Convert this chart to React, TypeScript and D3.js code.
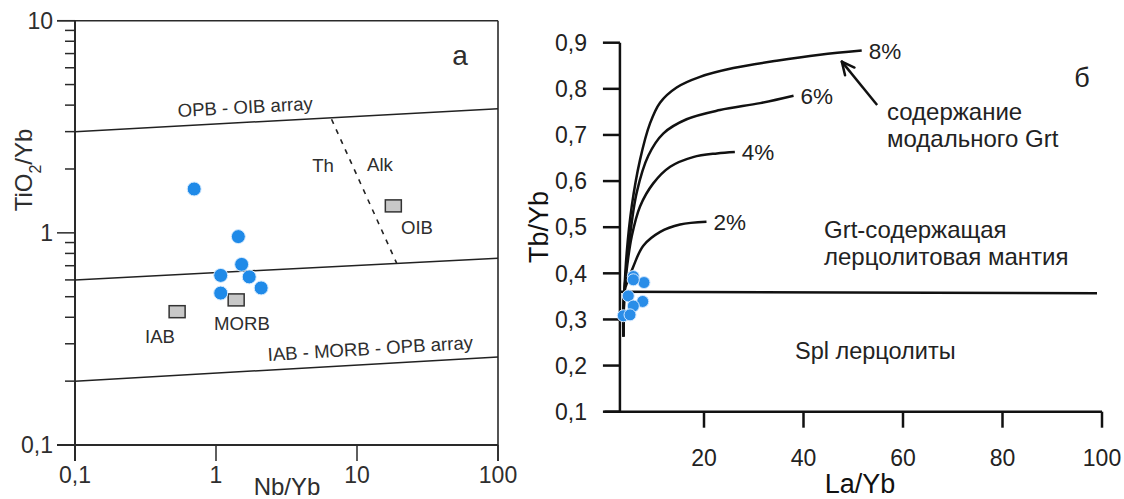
import * as d3 from 'd3';
import React, { useRef, useEffect } from 'react';

// ---- left panel (а): TiO2/Yb vs Nb/Yb ----
const sampleNb = [0.7, 1.44, 1.52, 1.08, 1.72, 2.09, 1.08];
const sampleTi = [1.61, 0.96, 0.71, 0.63, 0.62, 0.55, 0.52];

const refNames = ['IAB', 'MORB', 'OIB'];
const refNb = [0.53, 1.39, 18.1];
const refTi = [0.425, 0.483, 1.34];

// array boundaries: TiO2/Yb at Nb/Yb = 0.1 and at Nb/Yb = 100
const arrayNames = ['OPB - OIB array', '', 'IAB - MORB - OPB array'];
const arrayAt01 = [3.0, 0.6, 0.2];
const arrayAt100 = [3.85, 0.76, 0.26];

const thAlkNb = [6.6, 19.1];
const thAlkTi = [3.43, 0.72];

const leftXTicks = [0.1, 1, 10, 100];
const leftYTicks = [0.1, 1, 10];
const leftYMinor = [0.2, 0.3, 0.4, 0.5, 0.6, 0.7, 0.8, 0.9, 2, 3, 4, 5, 6, 7, 8, 9];

// ---- right panel (б): Tb/Yb vs La/Yb ----
const curveNames = ['8%', '6%', '4%', '2%'];
const curveLa = [
    [3.8, 4.0, 4.46, 5.47, 7.14, 9.15, 11.16, 14.5, 19.2, 25.9, 34.6, 43.3, 51.7],
    [3.8, 4.0, 5.0, 6.47, 8.8, 11.8, 16.5, 23.2, 31.3, 38],
    [3.8, 4.0, 4.6, 5.47, 7.14, 9.8, 13.2, 17.8, 22.6, 26.2],
    [3.8, 4.0, 4.9, 5.8, 7.8, 11.2, 15.2, 20.5]
];
const curveTb = [
    [0.263, 0.36, 0.444, 0.545, 0.646, 0.725, 0.77, 0.803, 0.826, 0.845, 0.861, 0.874, 0.883],
    [0.263, 0.36, 0.47, 0.575, 0.655, 0.703, 0.734, 0.754, 0.769, 0.785],
    [0.263, 0.36, 0.42, 0.48, 0.545, 0.595, 0.631, 0.652, 0.66, 0.663],
    [0.263, 0.36, 0.39, 0.415, 0.46, 0.49, 0.506, 0.512]
];

const boundaryLa = [3.1, 99];
const boundaryTb = [0.36, 0.357];

const arrowLa = [54.8, 47.7];
const arrowTb = [0.765, 0.859];

const rightLa = [5.79, 7.94, 4.78, 7.68, 5.79, 3.78, 5.13, 5.79];
const rightTb = [0.393, 0.38, 0.351, 0.339, 0.329, 0.308, 0.31, 0.386];

const rightXTicks = [20, 40, 60, 80, 100];
const rightYTicks = [0.1, 0.2, 0.3, 0.4, 0.5, 0.6, 0.7, 0.8, 0.9];

const font = "'Liberation Sans', Arial, sans-serif";
const comma = (v: number) => String(v).replace('.', ',');

function App() {
    const ref = useRef<SVGSVGElement>(null);

    useEffect(() => {
        draw();
    }, []);

    const draw = () => {
        const svg = d3.select(ref.current);
        svg.selectAll('*').remove();
        svg.append('rect').attr('width', 1124).attr('height', 499).attr('fill', '#fff');

        /* ===== left panel ===== */
        const lx = d3.scaleLog().domain([0.1, 100]).range([75, 498]);
        const ly = d3.scaleLog().domain([0.1, 10]).range([445, 20.7]);
        const L = svg.append('g').style('font-family', font);
        const axCol = '#2a2a2a';
        const txt = '#2e2e2e';

        // frame
        L.append('line').attr('x1', lx(0.1)).attr('x2', lx(0.1)).attr('y1', ly(10)).attr('y2', ly(0.1) + 16)
            .attr('stroke', axCol).attr('stroke-width', 2);
        L.append('line').attr('x1', lx(0.1) - 18).attr('x2', lx(100)).attr('y1', ly(0.1)).attr('y2', ly(0.1))
            .attr('stroke', axCol).attr('stroke-width', 2);
        L.append('line').attr('x1', lx(0.1) - 18).attr('x2', lx(100)).attr('y1', ly(10)).attr('y2', ly(10))
            .attr('stroke', axCol).attr('stroke-width', 1.6);
        L.append('line').attr('x1', lx(100)).attr('x2', lx(100)).attr('y1', ly(10)).attr('y2', ly(0.1) + 16)
            .attr('stroke', axCol).attr('stroke-width', 1.6);

        // y ticks
        leftYMinor.forEach(v => {
            L.append('line').attr('x1', lx(0.1) - 10).attr('x2', lx(0.1) + 1).attr('y1', ly(v)).attr('y2', ly(v))
                .attr('stroke', axCol).attr('stroke-width', 1.5);
        });
        leftYTicks.forEach(v => {
            L.append('line').attr('x1', lx(0.1) - 18).attr('x2', lx(0.1)).attr('y1', ly(v)).attr('y2', ly(v))
                .attr('stroke', axCol).attr('stroke-width', 1.5);
            L.append('text').attr('x', 53).attr('y', ly(v)).attr('dy', '0.35em').attr('text-anchor', 'end')
                .attr('font-size', 23).attr('fill', txt).text(comma(v));
        });

        // x ticks
        leftXTicks.forEach(v => {
            L.append('line').attr('x1', lx(v)).attr('x2', lx(v)).attr('y1', ly(0.1)).attr('y2', ly(0.1) + 16)
                .attr('stroke', axCol).attr('stroke-width', 1.5);
            L.append('text').attr('x', lx(v)).attr('y', 483).attr('text-anchor', 'middle')
                .attr('font-size', 23).attr('fill', txt).text(comma(v));
        });

        L.append('text').attr('x', 287).attr('y', 495).attr('text-anchor', 'middle')
            .attr('font-size', 24).attr('fill', txt).text('Nb/Yb');
        const yt = L.append('text').attr('transform', 'translate(32,170) rotate(-90)')
            .attr('text-anchor', 'middle').attr('font-size', 24).attr('fill', txt);
        yt.append('tspan').text('TiO');
        yt.append('tspan').attr('font-size', 16).attr('baseline-shift', 'sub').text('2');
        yt.append('tspan').text('/Yb');

        // array lines
        arrayAt01.forEach((v, i) => {
            L.append('line').attr('x1', lx(0.1)).attr('y1', ly(v)).attr('x2', lx(100)).attr('y2', ly(arrayAt100[i]))
                .attr('stroke', '#222').attr('stroke-width', 1.5);
        });
        L.append('text').attr('transform', 'translate(178,117) rotate(-3.1)')
            .attr('font-size', 18.6).attr('fill', txt).text(arrayNames[0]);
        L.append('text').attr('transform', 'translate(268,361) rotate(-3.4)')
            .attr('font-size', 18.6).attr('fill', txt).text(arrayNames[2]);

        // Th / Alk divider
        L.append('line').attr('x1', lx(thAlkNb[0])).attr('y1', ly(thAlkTi[0]))
            .attr('x2', lx(thAlkNb[1])).attr('y2', ly(thAlkTi[1]))
            .attr('stroke', '#222').attr('stroke-width', 1.6).attr('stroke-dasharray', '5,6');
        L.append('text').attr('x', 323).attr('y', 165).attr('dy', '0.35em').attr('text-anchor', 'middle')
            .attr('font-size', 18.6).attr('fill', txt).text('Th');
        L.append('text').attr('x', 380).attr('y', 164).attr('dy', '0.35em').attr('text-anchor', 'middle')
            .attr('font-size', 18.6).attr('fill', txt).text('Alk');

        // reference compositions
        const refLab = [[160, 336], [242, 323], [417, 227]];
        refNames.forEach((name, i) => {
            L.append('rect').attr('x', lx(refNb[i]) - 8).attr('y', ly(refTi[i]) - 6)
                .attr('width', 16).attr('height', 12)
                .attr('fill', '#c8c8c8').attr('stroke', '#333').attr('stroke-width', 1.5);
            L.append('text').attr('x', refLab[i][0]).attr('y', refLab[i][1]).attr('dy', '0.35em')
                .attr('text-anchor', 'middle').attr('font-size', 18.6).attr('fill', txt).text(name);
        });

        // samples
        L.selectAll('.pt').data(sampleNb).enter().append('circle')
            .attr('cx', d => lx(d)).attr('cy', (d, i) => ly(sampleTi[i])).attr('r', 7)
            .attr('fill', '#1f8ae8').attr('stroke', '#d8ecff').attr('stroke-width', 1);

        L.append('text').attr('x', 460).attr('y', 55).attr('dy', '0.35em').attr('text-anchor', 'middle')
            .attr('font-size', 28).attr('fill', txt).text('а');

        /* ===== right panel ===== */
        const rx = d3.scaleLinear().domain([0, 100]).range([604.5, 1102]);
        const ry = d3.scaleLinear().domain([0.1, 0.9]).range([411.7, 42.7]);
        const R = svg.append('g').style('font-family', font);
        const ax0 = rx(3.1);

        R.append('line').attr('x1', ax0).attr('x2', ax0).attr('y1', ry(0.9)).attr('y2', ry(0.1))
            .attr('stroke', '#111').attr('stroke-width', 2.5);
        R.append('line').attr('x1', rx(0)).attr('x2', rx(100)).attr('y1', ry(0.1)).attr('y2', ry(0.1))
            .attr('stroke', '#111').attr('stroke-width', 2.5);
        rightYTicks.forEach(v => {
            R.append('line').attr('x1', ax0 - 17).attr('x2', ax0).attr('y1', ry(v)).attr('y2', ry(v))
                .attr('stroke', '#111').attr('stroke-width', 2.5);
            R.append('text').attr('x', 587).attr('y', ry(v)).attr('dy', '0.36em').attr('text-anchor', 'end')
                .attr('font-size', 23).attr('fill', '#222').text(comma(v));
        });
        rightXTicks.forEach(v => {
            R.append('line').attr('x1', rx(v)).attr('x2', rx(v)).attr('y1', ry(0.1)).attr('y2', ry(0.1) + 16)
                .attr('stroke', '#111').attr('stroke-width', 2.5);
            R.append('text').attr('x', rx(v)).attr('y', 458).attr('dy', '0.36em').attr('text-anchor', 'middle')
                .attr('font-size', 23).attr('fill', '#222').text(v);
        });

        R.append('text').attr('x', 860).attr('y', 483).attr('dy', '0.36em').attr('text-anchor', 'middle')
            .attr('font-size', 27).attr('fill', '#111').text('La/Yb');
        R.append('text').attr('transform', 'translate(538.5,227) rotate(-90)').attr('dy', '0.36em')
            .attr('text-anchor', 'middle').attr('font-size', 27).attr('fill', '#111').text('Tb/Yb');

        // boundary
        R.append('line').attr('x1', rx(boundaryLa[0])).attr('y1', ry(boundaryTb[0]))
            .attr('x2', rx(boundaryLa[1])).attr('y2', ry(boundaryTb[1]))
            .attr('stroke', '#111').attr('stroke-width', 2.5);

        // melting curves
        const line = d3.line<[number, number]>().curve(d3.curveCatmullRom.alpha(0.5));
        curveNames.forEach((name, k) => {
            const pts = curveLa[k].map((v, i) => [rx(v), ry(curveTb[k][i])] as [number, number]);
            R.append('path').attr('d', line(pts)).attr('fill', 'none')
                .attr('stroke', '#111').attr('stroke-width', 2.5);
            const last = pts[pts.length - 1];
            R.append('text').attr('x', last[0] + 7).attr('y', last[1]).attr('dy', '0.36em')
                .attr('font-size', 22.5).attr('fill', '#222').text(name);
        });

        // arrow
        const ah = [rx(arrowLa[1]), ry(arrowTb[1])];
        const at = [rx(arrowLa[0]), ry(arrowTb[0])];
        const ang = Math.atan2(at[1] - ah[1], at[0] - ah[0]);
        R.append('line').attr('x1', at[0]).attr('y1', at[1]).attr('x2', ah[0]).attr('y2', ah[1])
            .attr('stroke', '#111').attr('stroke-width', 2.5);
        [0.45, -0.45].forEach(da => {
            R.append('line').attr('x1', ah[0]).attr('y1', ah[1])
                .attr('x2', ah[0] + 14 * Math.cos(ang + da)).attr('y2', ah[1] + 14 * Math.sin(ang + da))
                .attr('stroke', '#111').attr('stroke-width', 2.5).attr('stroke-linecap', 'round');
        });

        // annotations
        const notes: [string, number, number, number][] = [
            ['содержание', 887, 120, 24], ['модального Grt', 887, 147, 24],
            ['Grt-содержащая', 824, 238, 24], ['лерцолитовая мантия', 824, 265, 24],
            ['Spl лерцолиты', 795, 359, 23.5]
        ];
        notes.forEach(n => {
            R.append('text').attr('x', n[1]).attr('y', n[2]).attr('font-size', n[3]).attr('fill', '#222').text(n[0]);
        });
        R.append('text').attr('x', 1082).attr('y', 77).attr('dy', '0.36em').attr('text-anchor', 'middle')
            .attr('font-size', 27).attr('fill', '#222').text('б');

        // samples
        R.selectAll('.rpt').data(rightLa).enter().append('circle')
            .attr('cx', d => rx(d)).attr('cy', (d, i) => ry(rightTb[i])).attr('r', 6)
            .attr('fill', '#2a8de8').attr('stroke', '#cfe6ff').attr('stroke-width', 1);
    };

    return (
        <div style={{ position: 'absolute', left: 0, top: 0 }}>
            <svg ref={ref} width={1124} height={499}></svg>
        </div>
    );
}

export default App;
